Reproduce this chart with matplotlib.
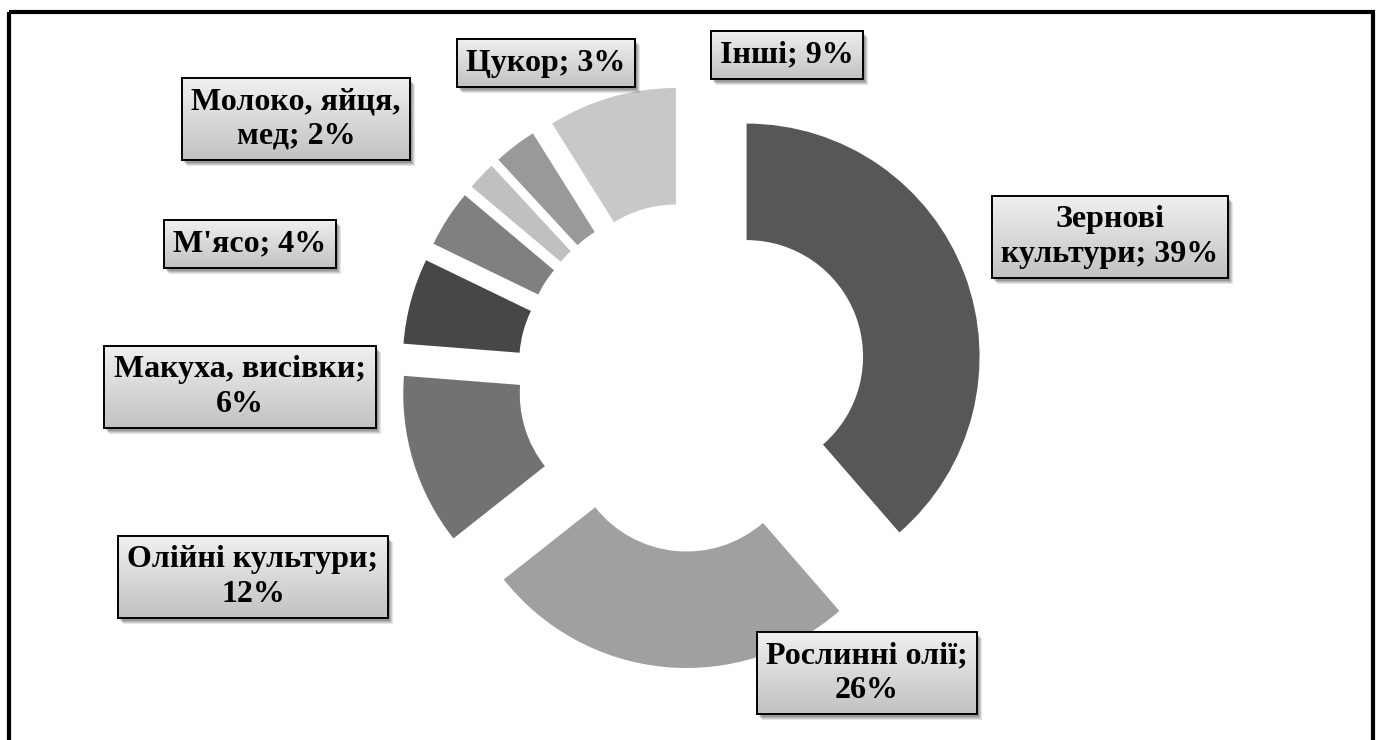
import matplotlib
matplotlib.use("Agg")
import matplotlib.pyplot as plt
from matplotlib.patches import Rectangle
import numpy as np

# shares of the structure, clockwise from 12 o'clock
categories = ["Зернові культури", "Рослинні олії", "Олійні культури",
              "Макуха, висівки", "М'ясо", "Молоко, яйця, мед", "Цукор", "Інші"]
values = [39, 26, 12, 6, 4, 2, 3, 9]
label_text = ["Зернові\nкультури; 39%", "Рослинні олії;\n26%",
              "Олійні культури;\n12%", "Макуха, висівки;\n6%",
              "М'ясо; 4%", "Молоко, яйця,\nмед; 2%", "Цукор; 3%", "Інші; 9%"]
colors = ["#575757", "#a0a0a0", "#727272", "#474747",
          "#808080", "#c0c0c0", "#999999", "#c8c8c8"]

W, H = 1381, 740
cx, cy, R = 692, 377, 233       # donut centre / radius in pixels
label_pos = [(1110, 237), (867, 673), (253, 577), (240, 387),
             (250, 244), (296, 119), (546, 63), (787, 55)]

fig = plt.figure(figsize=(W / 100, H / 100), dpi=100)

ax = fig.add_axes([0, 0, 1, 1])
ax.pie(values, colors=colors, startangle=90, counterclock=False,
       explode=[0.25] * len(values), wedgeprops=dict(width=0.5, linewidth=0))
ax.set_xlim(-cx / R, (W - cx) / R)
ax.set_ylim(-(H - cy) / R, cy / R)
ax.set_aspect("auto")
ax.axis("off")

ov = fig.add_axes([0, 0, 1, 1], zorder=2)
ov.set_xlim(0, W)
ov.set_ylim(H, 0)
ov.axis("off")
ov.patch.set_alpha(0)

# outer frame
ov.add_patch(Rectangle((9, 12), 1364, 740, fill=False, ec="black", lw=3.0, zorder=5))

texts = []
for txt, (x, y) in zip(label_text, label_pos):
    t = ov.text(x, y, txt, ha="center", va="center", multialignment="center",
                family="Liberation Serif", weight="bold", fontsize=23, zorder=4,
                linespacing=1.25,
                bbox=dict(boxstyle="square,pad=0.3", fc="none", ec="black", lw=1.4))
    texts.append(t)

fig.canvas.draw()
grad = np.linspace(0, 1, 64).reshape(-1, 1)
cmap = matplotlib.colors.LinearSegmentedColormap.from_list("g", ["#f0f0f0", "#c2c2c2"])
inv = ov.transData.inverted()
for t in texts:
    bb = t.get_bbox_patch().get_window_extent()
    (x0, y1), (x1, y0) = inv.transform([[bb.x0, bb.y0], [bb.x1, bb.y1]])
    # soft shadow
    for k, a in enumerate([0.10, 0.10, 0.12, 0.15]):
        off = 6 - k
        ov.add_patch(Rectangle((x0 + off - 1, y0 + off), x1 - x0, y1 - y0,
                               fc="black", ec="none", alpha=a, zorder=2))
    ov.imshow(grad, extent=[x0, x1, y1, y0], cmap=cmap, aspect="auto", zorder=3)
ov.set_xlim(0, W)
ov.set_ylim(H, 0)

fig.savefig("out.png", dpi=100)
